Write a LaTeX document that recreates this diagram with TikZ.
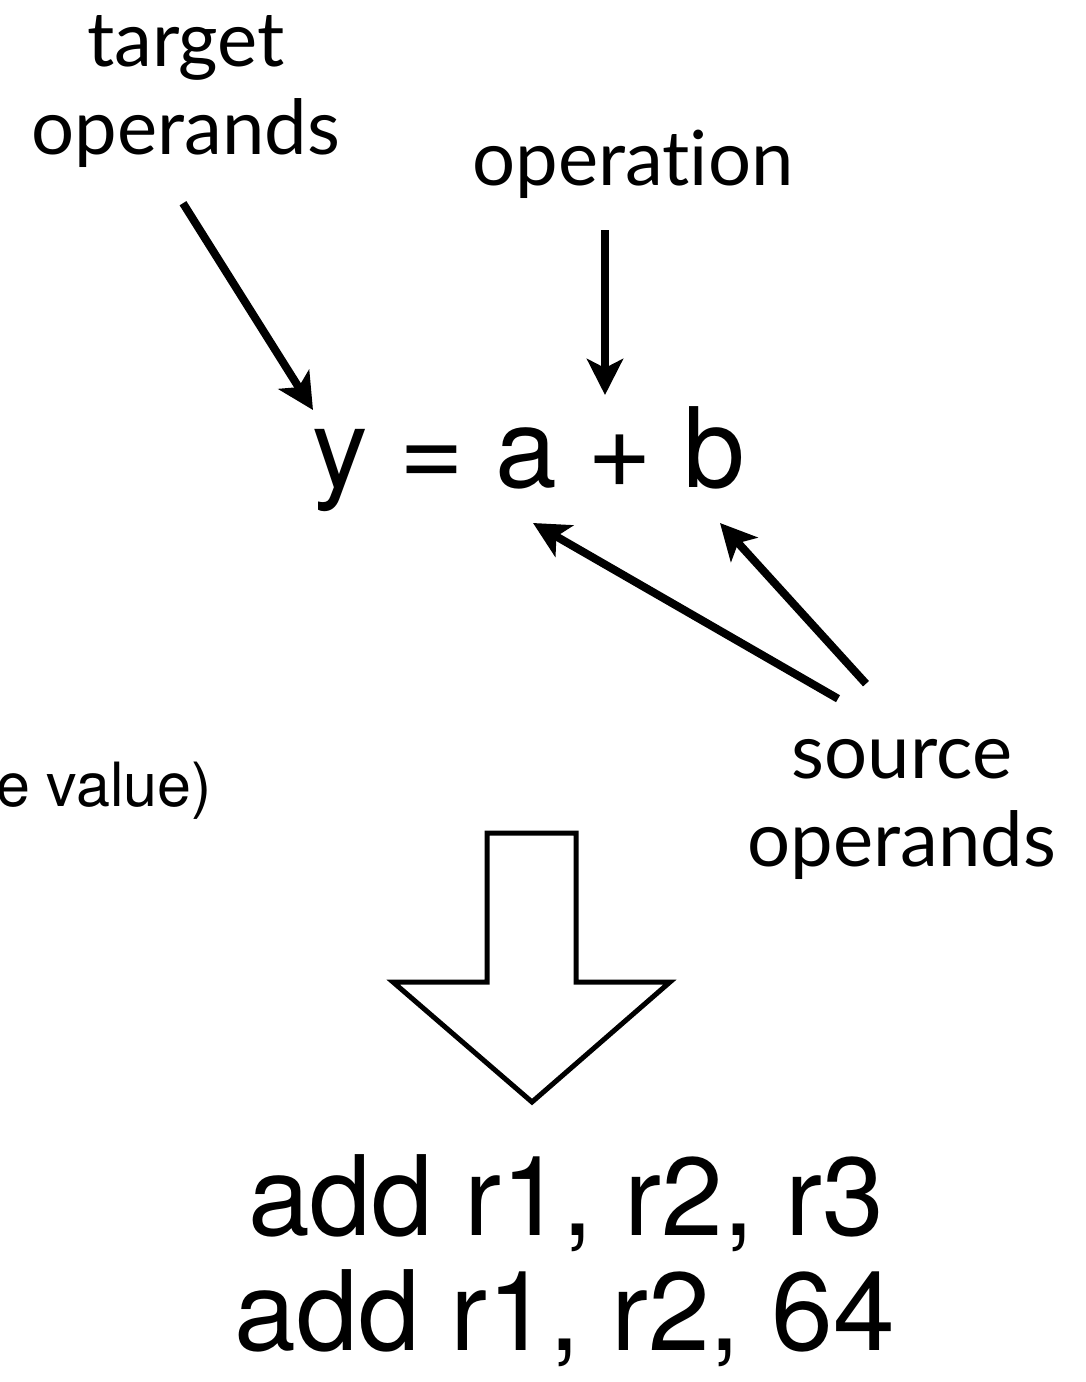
\documentclass[tikz,border=0pt]{standalone}
\usepackage{fontspec}
\usetikzlibrary{arrows.meta,calc}
\newfontfamily\gill[Ligatures=NoCommon]{Lato}
\newfontfamily\helv{TeX Gyre Heros}
\begin{document}
\begin{tikzpicture}[x=1pt,y=-1pt,
  ptr/.style={line width=8pt,-{Stealth[length=36pt,width=36pt,inset=9pt]}},
  lbl/.style={font=\gill\fontsize{76}{88}\selectfont,align=center,inner sep=0pt},
  expr/.style={font=\helv\fontsize{111}{115}\selectfont,inner sep=0pt,anchor=base}]
  \useasboundingbox (0,0) rectangle (1086,1382);

  \node[lbl] (target) at (186,92) {target\\operands};
  \node[lbl,anchor=base] (oper) at (633,185) {operat\kern0pt ion};
  \node[lbl] (source) at (902,809) {source\\operands};
  \node[expr] (eqn) at (529,487) {y = a + b};
  \node[anchor=base east,inner sep=0pt,font=\helv\fontsize{61}{61}\selectfont] (imm) at (212,806) {e value)};
  \node[expr] (ins1) at (566,1235) {add r1, r2, r3};
  \node[expr] (ins2) at (565,1350) {add r1, r2, 64};

  \coordinate (ytip) at (313,410);
  \coordinate (optip) at (605,395);
  \coordinate (atip) at (533,523);
  \coordinate (btip) at (720,523);

  \draw[ptr] ($(target.south)+(-3,35)$) -- (ytip);
  \draw[ptr] ($(oper.south)+(-28,32)$) -- (optip);
  \draw[ptr] ($(source.north)+(-64,-40)$) -- (atip);
  \draw[ptr] ($(source.north)+(-36,-55)$) -- (btip);

  \draw[line width=5pt,miter limit=20] (487,833) -- (576,833) -- (576,982) -- (670,982)
    -- (532,1102) -- (393,982) -- (487,982) -- cycle;
\end{tikzpicture}
\end{document}
